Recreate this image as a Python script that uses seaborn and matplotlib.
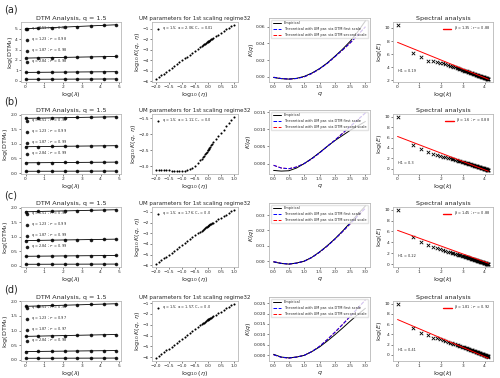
import numpy as np
import pandas as pd
import matplotlib.pyplot as plt
import seaborn as sns

sns.set_style("ticks")
plt.rcParams['font.family'] = ['DejaVu Sans']

row_tags = ["(a)", "(b)", "(c)", "(d)"]

# %% DTM data (log(lambda) vs log(DTM))
log_lambda = [0, 0.69, 1.39, 2.08, 2.77, 3.47, 4.16, 4.85]
dtm_q = [0.51, 1.23, 1.87, 2.84]
dtm_r2 = [[0.98, 0.98, 0.98, 0.98],
          [0.98, 0.99, 0.99, 0.99],
          [0.98, 0.99, 0.99, 0.99],
          [0.98, 0.97, 0.97, 0.98]]
dtm_a = [[0.14, 0.145, 0.15, 0.15, 0.155, 0.16, 0.165, 0.17],
         [0.80, 0.81, 0.82, 0.83, 0.84, 0.85, 0.86, 0.87],
         [2.18, 2.20, 2.22, 2.24, 2.26, 2.29, 2.31, 2.34],
         [5.00, 5.05, 5.10, 5.15, 5.20, 5.27, 5.33, 5.38]]
dtm_b = [[0.060, 0.061, 0.062, 0.063, 0.064, 0.065, 0.066, 0.067],
         [0.350, 0.353, 0.356, 0.360, 0.363, 0.366, 0.370, 0.373],
         [0.900, 0.905, 0.910, 0.915, 0.920, 0.925, 0.930, 0.935],
         [1.870, 1.880, 1.885, 1.890, 1.900, 1.910, 1.915, 1.925]]
dtm_c = [[0.055, 0.056, 0.057, 0.058, 0.059, 0.060, 0.061, 0.062],
         [0.330, 0.334, 0.338, 0.342, 0.346, 0.350, 0.354, 0.358],
         [0.870, 0.877, 0.884, 0.891, 0.898, 0.905, 0.912, 0.919],
         [1.860, 1.870, 1.880, 1.890, 1.900, 1.910, 1.920, 1.930]]
dtm_d = [[0.050, 0.051, 0.052, 0.053, 0.054, 0.055, 0.056, 0.057],
         [0.280, 0.285, 0.290, 0.295, 0.300, 0.305, 0.310, 0.315],
         [0.800, 0.810, 0.820, 0.830, 0.840, 0.850, 0.855, 0.865],
         [1.830, 1.845, 1.860, 1.870, 1.880, 1.895, 1.910, 1.920]]

# %% UM parameters (log10 eta vs log10 K(q, eta))
log_eta = [-2.0, -1.9, -1.8, -1.7, -1.6, -1.5, -1.4, -1.3, -1.2, -1.1, -1.0,
           -0.9, -0.8, -0.7, -0.6, -0.5, -0.4, -0.3, -0.25, -0.2, -0.16, -0.12,
           -0.08, -0.05, -0.02, 0.0, 0.02, 0.05, 0.08, 0.12, 0.16, 0.2, 0.3,
           0.4, 0.5, 0.6, 0.7, 0.8, 0.9, 1.0]
um_labels = ["q = 1.5; α = 2.06; C$_1$ = 0.01", "q = 1.5; α = 1.11; C$_1$ = 0.0",
             "q = 1.5; α = 1.76; C$_1$ = 0.0", "q = 1.5; α = 1.57; C$_1$ = 0.0"]
um_a = [-5.80, -5.62, -5.44, -5.26, -5.08, -4.90, -4.72, -4.54, -4.36, -4.18, -4.00,
        -3.82, -3.64, -3.46, -3.28, -3.10, -2.92, -2.74, -2.65, -2.56, -2.49, -2.42,
        -2.34, -2.29, -2.24, -2.20, -2.17, -2.12, -2.07, -2.00, -1.94, -1.87, -1.71,
        -1.55, -1.39, -1.23, -1.07, -0.92, -0.77, -0.62]
um_b = [-3.10, -3.10, -3.11, -3.11, -3.12, -3.12, -3.13, -3.14, -3.14, -3.15, -3.15,
        -3.14, -3.12, -3.09, -3.04, -2.98, -2.90, -2.81, -2.76, -2.71, -2.66, -2.62,
        -2.57, -2.54, -2.50, -2.48, -2.45, -2.42, -2.38, -2.34, -2.29, -2.25, -2.15,
        -2.05, -1.95, -1.85, -1.75, -1.65, -1.55, -1.45]
um_c = [-5.90, -5.72, -5.54, -5.36, -5.18, -5.00, -4.82, -4.64, -4.46, -4.28, -4.10,
        -3.92, -3.74, -3.56, -3.38, -3.20, -3.02, -2.84, -2.75, -2.66, -2.59, -2.52,
        -2.44, -2.39, -2.34, -2.30, -2.27, -2.23, -2.18, -2.12, -2.06, -2.00, -1.85,
        -1.70, -1.55, -1.40, -1.25, -1.10, -0.95, -0.80]
um_d = [-6.10, -5.92, -5.74, -5.56, -5.38, -5.20, -5.02, -4.84, -4.66, -4.48, -4.30,
        -4.12, -3.94, -3.76, -3.58, -3.40, -3.22, -3.04, -2.95, -2.86, -2.79, -2.72,
        -2.64, -2.59, -2.54, -2.50, -2.47, -2.43, -2.38, -2.33, -2.27, -2.21, -2.07,
        -1.92, -1.78, -1.63, -1.49, -1.34, -1.20, -1.05]

# %% K(q) curves
q_vals = [0, 0.25, 0.5, 0.75, 1.0, 1.25, 1.5, 1.75, 2.0, 2.25, 2.5, 2.75, 3.0]
k_emp_a = [-0.0008, -0.0022, -0.0027, -0.0018, 0.0005, 0.0045, 0.0098, 0.0165, 0.0245, 0.033, 0.0425, 0.054, 0.067]
k_th_a = [-0.0005, -0.0020, -0.0027, -0.0020, 0.0, 0.0040, 0.0095, 0.0160, 0.0240, 0.032, 0.0405, 0.050, 0.060]
k_emp_b = [-0.0020, -0.0022, -0.0021, -0.0013, 0.0, 0.0015, 0.0032, 0.0050, 0.0067, 0.0082, 0.0097, 0.0110, 0.0123]
k_th_b = [-0.0005, -0.0013, -0.0015, -0.0010, 0.0, 0.0014, 0.0031, 0.0050, 0.0068, 0.0088, 0.0108, 0.0128, 0.0148]
k_emp_c = [-0.0005, -0.0015, -0.0019, -0.0012, 0.0, 0.0025, 0.0060, 0.0100, 0.0145, 0.0195, 0.0250, 0.0305, 0.0360]
k_th_c = [-0.0003, -0.0014, -0.0019, -0.0013, 0.0, 0.0024, 0.0058, 0.0098, 0.0143, 0.0192, 0.0243, 0.0295, 0.0345]
k_emp_d = [0.0005, -0.0008, -0.0012, -0.0008, 0.0, 0.0018, 0.0040, 0.0068, 0.0098, 0.0130, 0.0163, 0.0195, 0.0225]
k_th_d = [0.0003, -0.0009, -0.0013, -0.0008, 0.0, 0.0018, 0.0043, 0.0075, 0.0110, 0.0147, 0.0186, 0.0225, 0.0265]

# %% Spectral analysis, log(E) at k = 1, 2, 3, ...
spec_a = [10.5, 6.1, 5.5, 5.0, 5.0, 4.75, 4.7,
          4.60, 4.46, 4.34, 4.23, 4.13, 4.04, 3.96, 3.88, 3.80, 3.73, 3.67, 3.61, 3.55,
          3.49, 3.44, 3.39, 3.34, 3.29, 3.24, 3.20, 3.16, 3.12, 3.08, 3.04, 3.00, 2.97,
          2.94, 2.90, 2.87, 2.84, 2.81, 2.78, 2.75, 2.72, 2.69, 2.67, 2.64, 2.61, 2.59,
          2.56, 2.54, 2.52, 2.49, 2.47, 2.45, 2.43, 2.40, 2.38, 2.36, 2.34, 2.32, 2.30,
          2.28, 2.26, 2.25, 2.23, 2.21, 2.19]
spec_b = [10.0, 4.6, 3.8, 3.2, 2.9, 2.7, 2.5,
          2.30, 2.18, 2.06, 1.96, 1.86, 1.77, 1.69, 1.61, 1.53, 1.46, 1.40, 1.33, 1.27,
          1.21, 1.16, 1.10, 1.05, 1.00, 0.95, 0.90, 0.86, 0.81, 0.77, 0.73, 0.69, 0.65,
          0.61, 0.58, 0.54, 0.50, 0.47, 0.43, 0.40, 0.37, 0.34, 0.31, 0.28, 0.25, 0.22,
          0.19, 0.16, 0.13, 0.11, 0.08, 0.05, 0.03, 0.00, -0.02, -0.05, -0.07, -0.09,
          -0.12, -0.14, -0.16, -0.19, -0.21, -0.23, -0.25]
spec_c = [10.0, 4.9, 4.0, 3.5, 3.1, 2.9, 2.7,
          2.50, 2.38, 2.26, 2.16, 2.06, 1.97, 1.89, 1.81, 1.73, 1.66, 1.60, 1.53, 1.47,
          1.41, 1.36, 1.30, 1.25, 1.20, 1.15, 1.10, 1.06, 1.01, 0.97, 0.93, 0.89, 0.85,
          0.81, 0.78, 0.74, 0.70, 0.67, 0.63, 0.60, 0.57, 0.54, 0.51, 0.48, 0.45, 0.42,
          0.39, 0.36, 0.33, 0.31, 0.28, 0.25, 0.23, 0.20, 0.18, 0.15, 0.13, 0.11,
          0.08, 0.06, 0.04, 0.01, -0.01, -0.03, -0.05]
spec_d = [10.0, 5.2, 4.2, 3.8, 3.3, 3.2, 3.0,
          2.80, 2.65, 2.50, 2.38, 2.26, 2.14, 2.04, 1.94, 1.85, 1.76, 1.68, 1.60, 1.52,
          1.45, 1.38, 1.32, 1.25, 1.19, 1.13, 1.07, 1.01, 0.96, 0.91, 0.85, 0.80, 0.76,
          0.71, 0.66, 0.62, 0.57, 0.53, 0.49, 0.45, 0.41, 0.37, 0.33, 0.29, 0.26, 0.22,
          0.18, 0.15, 0.11, 0.08, 0.05, 0.02, -0.02, -0.05, -0.08, -0.11, -0.14, -0.17,
          -0.20, -0.23, -0.25, -0.28, -0.31, -0.34, -0.36]
spec_fit = [[7.8, 2.15], [6.2, -0.5], [6.2, 0.15], [6.9, -0.7]]
spec_labels = ["β = 1.35 ; r$^2$ = 0.88", "β = 1.6 ; r$^2$ = 0.88",
               "β = 1.45 ; r$^2$ = 0.88", "β = 1.81 ; r$^2$ = 0.92"]
h1_labels = ["H1 = 0.19", "H1 = 0.3", "H1 = 0.22", "H1 = 0.41"]

dtm_all = [dtm_a, dtm_b, dtm_c, dtm_d]
um_all = [um_a, um_b, um_c, um_d]
kq_all = [(k_emp_a, k_th_a), (k_emp_b, k_th_b), (k_emp_c, k_th_c), (k_emp_d, k_th_d)]
spec_all = [spec_a, spec_b, spec_c, spec_d]

# %%
W, H = 500, 378
fig = plt.figure(figsize=(5.0, 3.78), dpi=100)


def px_axes(left, top, width, height):
    return fig.add_axes([left / W, 1 - (top + height) / H, width / W, height / H])


def style(ax):
    ax.tick_params(labelsize=3.2, length=1.5, width=0.4, pad=0.8)
    for s in ax.spines.values():
        s.set_color("#b8b8b8")
        s.set_linewidth(0.6)


TITLE = 4.6
LAB = 4.6
LEG = 2.5

row_tops = [22, 114, 207, 301]
for i, top in enumerate(row_tops):
    fig.text(4 / W, 1 - (top - 12) / H, row_tags[i], fontsize=7, va="center")

    # DTM panel
    ax = px_axes(21, top, 100, 60)
    for j, q in enumerate(dtm_q):
        df = pd.DataFrame({"x": log_lambda, "y": dtm_all[i][j]})
        sns.regplot(data=df, x="x", y="y", ax=ax, ci=None, color="black",
                    scatter_kws={"s": 2.5, "marker": "s"}, line_kws={"lw": 0.6},
                    label=f"q = {q} ; r$^2$ = {dtm_r2[i][j]}")
    ax.set_title("DTM Analysis, q = 1.5", fontsize=TITLE, pad=1.2)
    ax.set_xlabel("log($\\lambda$)", fontsize=LAB, labelpad=0.3)
    ax.set_ylabel("log(DTM$_\\lambda$)", fontsize=LAB, labelpad=0.3)
    ax.set_xticks([0, 1, 2, 3, 4, 5])
    ax.legend(loc="upper left", fontsize=LEG, frameon=False, handletextpad=0.2,
              borderaxespad=0.3, labelspacing=0.7)
    style(ax)

    # UM panel
    ax = px_axes(152, top, 86, 60)
    sns.scatterplot(x=log_eta, y=um_all[i], ax=ax, color="black", s=1.5,
                    edgecolor="black", linewidth=0.2, label=um_labels[i])
    ax.set_title("UM parameters for 1st scaling regime32", fontsize=4.0, pad=1.2)
    ax.set_xlabel("$\\log_{10}(\\eta)$", fontsize=LAB, labelpad=0.3)
    ax.set_ylabel("$\\log_{10}K(q,\\ \\eta)$", fontsize=LAB, labelpad=0.3)
    ax.set_xticks([-2.0, -1.5, -1.0, -0.5, 0.0, 0.5, 1.0])
    ax.legend(loc="upper left", fontsize=LEG, frameon=False, handletextpad=0.2,
              borderaxespad=0.3)
    style(ax)

    # K(q) panel
    ax = px_axes(269, top - 4, 101, 64)
    emp, th = kq_all[i]
    sns.lineplot(x=q_vals, y=th, ax=ax, color="red", lw=0.7, linestyle="--",
                 label="Theoretical with UM par. via DTM second scale")
    sns.lineplot(x=q_vals, y=emp, ax=ax, color="black", lw=0.7,
                 label="Empirical")
    sns.lineplot(x=q_vals, y=th, ax=ax, color="blue", lw=0.7, linestyle="--",
                 label="Theoretical with UM par. via DTM first scale")
    h, l = ax.get_legend_handles_labels()
    ax.legend([h[1], h[2], h[0]], [l[1], l[2], l[0]], loc="upper right",
              fontsize=LEG, frameon=True, handlelength=2.5, borderaxespad=0.6,
              framealpha=0.8, edgecolor="#dddddd")
    ax.set_xlabel("$q$", fontsize=LAB, labelpad=0.3)
    ax.set_ylabel("$K(q)$", fontsize=LAB, labelpad=0.3)
    ax.set_xticks([0.0, 0.5, 1.0, 1.5, 2.0, 2.5, 3.0])
    style(ax)

    # Spectral panel
    ax = px_axes(393, top, 100, 60)
    logk = np.log(np.arange(1, len(spec_all[i]) + 1))
    sns.lineplot(x=[0, logk[-1]], y=spec_fit[i], ax=ax, color="red", lw=0.7,
                 label=spec_labels[i])
    sns.scatterplot(x=logk, y=spec_all[i], ax=ax, color="black", marker="x",
                    s=6, linewidth=0.6)
    ax.text(0.05, 0.16, h1_labels[i], transform=ax.transAxes, fontsize=LEG)
    leg = ax.legend(loc="upper right", fontsize=LEG, frameon=False,
                    handlelength=2.5, borderaxespad=0.3)
    for hl in leg.get_lines():
        hl.set_color("red")
        hl.set_linewidth(1.0)
    ax.set_title("Spectral analysis", fontsize=TITLE, pad=1.2)
    ax.set_xlabel("log($k$)", fontsize=LAB, labelpad=0.3)
    ax.set_ylabel("log($E$)", fontsize=LAB, labelpad=0.3)
    ax.set_xticks([0, 1, 2, 3, 4])
    style(ax)

fig.savefig("out.png", dpi=100)
